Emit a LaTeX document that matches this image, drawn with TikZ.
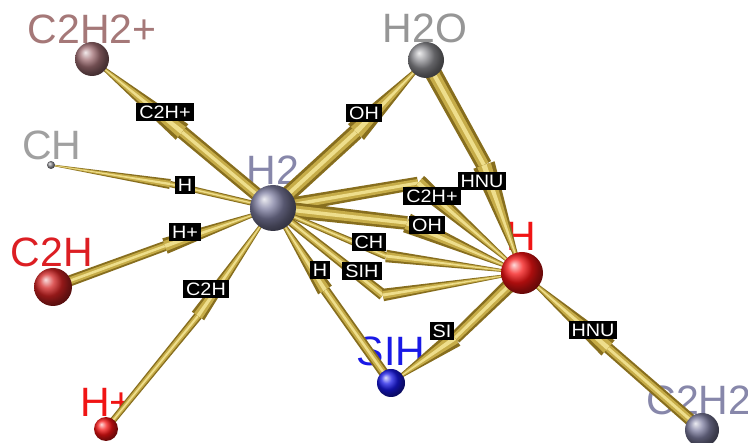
\documentclass[tikz,border=0pt]{standalone}
\usepackage{fontspec}
\setmainfont{Liberation Sans}
\newfontfamily\smf[FakeStretch=1.1]{Liberation Sans}
\usetikzlibrary{calc}
\pgfdeclarelayer{bg}
\pgfsetlayers{bg,main}
\definecolor{goldA}{RGB}{135,110,30}
\definecolor{goldB}{RGB}{198,172,72}
\definecolor{goldC}{RGB}{238,222,140}
\definecolor{tC2H2p}{RGB}{165,120,120}
\definecolor{tGray}{RGB}{150,150,150}
\definecolor{tCH}{RGB}{160,160,160}
\definecolor{tSlate}{RGB}{135,135,170}
\definecolor{tRedA}{RGB}{220,30,35}
\definecolor{tRed}{RGB}{240,20,20}
\definecolor{tBlue}{RGB}{25,25,230}
\definecolor{bC2H2p}{RGB}{160,110,115}
\definecolor{bGray}{RGB}{140,140,145}
\definecolor{bSlate}{RGB}{125,125,160}
\definecolor{bRedA}{RGB}{210,35,35}
\definecolor{bRed}{RGB}{245,20,20}
\definecolor{bBlue}{RGB}{25,25,230}
\newcommand{\tubeseg}[5]{%
  \fill[#5] ($(#1)!#3pt!90:(#2)$) -- ($(#2)!#4pt!-90:(#1)$) -- ($(#2)!#4pt!90:(#1)$) -- ($(#1)!#3pt!-90:(#2)$) -- cycle;}
\newcommand{\tube}[4]{%
  \pgfmathsetmacro\tubeaa{#3*1.25}\pgfmathsetmacro\tubebb{#4*1.25}%
  \tubeseg{#1}{#2}{\tubeaa}{\tubebb}{goldA}%
  \pgfmathsetmacro\tubeaa{#3*0.8}\pgfmathsetmacro\tubebb{#4*0.8}%
  \tubeseg{#1}{#2}{\tubeaa}{\tubebb}{goldB}%
  \pgfmathsetmacro\tubeaa{#3*0.3}\pgfmathsetmacro\tubebb{#4*0.3}%
  \tubeseg{#1}{#2}{\tubeaa}{\tubebb}{goldC}}
% source, flange, target, half width at source, half width at flange, cone base half width
\newcommand{\gedge}[6]{%
  \tube{#1}{#2}{#4}{#5}%
  \tube{#2}{#3}{#6}{0.5}}
\tikzset{
  ballnode/.style={circle, inner sep=0pt, draw=none},
  biglab/.style={font=\fontsize{41}{41}\selectfont, inner sep=0pt, text height=29.3pt, text depth=0pt},
  elab/.style={fill=black, text=white, font=\smf\fontsize{18}{18}\selectfont, inner ysep=2.5pt, inner xsep=3pt, text height=12.9pt, text depth=0pt}
}
\begin{document}
\begin{tikzpicture}[x=1pt,y=-1pt]
\useasboundingbox (0,0) rectangle (748,443);
\clip (0,0) rectangle (748,443);
% balls
\node[ballnode, ball color=bC2H2p, minimum size=34pt] (C2H2p) at (92,59) {};
\node[ballnode, ball color=bGray, minimum size=36pt] (H2O) at (426,60) {};
\node[ballnode, ball color=bGray, minimum size=8pt] (CH) at (51,165) {};
\node[ballnode, ball color=bSlate, minimum size=46pt] (H2) at (273,208) {};
\node[ballnode, ball color=bRedA, minimum size=38pt] (C2H) at (53,287) {};
\node[ballnode, ball color=bRed, minimum size=24pt] (Hp) at (106,429) {};
\node[ballnode, ball color=bRed, minimum size=42pt] (H) at (522,273) {};
\node[ballnode, ball color=bBlue, minimum size=28pt] (SIH) at (391,383) {};
\node[ballnode, ball color=bSlate, minimum size=34pt] (C2H2) at (702,430) {};
% flange points
\coordinate (f1) at (182,132);
\coordinate (f2) at (356,132);
\coordinate (f3) at (170,184);
\coordinate (f4) at (165,246);
\coordinate (f5) at (198,316);
\coordinate (f6) at (484,165);
\coordinate (f7) at (418,183);
\coordinate (f8) at (407,223);
\coordinate (f9) at (386,256);
\coordinate (f10) at (383,295);
\coordinate (f11) at (325,290);
\coordinate (f12) at (455,338);
\coordinate (f13) at (608,348);
\begin{pgfonlayer}{bg}
\fill[white] (0,0) rectangle (748,443);
% node labels (behind the edges)
\node[biglab, text=tC2H2p] (lC2H2p) at (92,29) {C2H2+};
\node[biglab, text=tGray] (lH2O) at (425,28) {H2O};
\node[biglab, text=tCH] (lCH) at (52,145) {CH};
\node[biglab, text=tSlate] (lH2) at (273,170) {H2};
\node[biglab, text=tRedA] (lC2H) at (52,252) {C2H};
\node[biglab, text=tRed] (lHp) at (107,402) {H+};
\node[biglab, text=tRed] (lH) at (521,236) {H};
\node[biglab, text=tBlue] (lSIH) at (391,351) {SIH};
\node[biglab, text=tSlate] (lC2H2) at (699,400) {C2H2};
% edges
\gedge{H2.center}{f1}{C2H2p.center}{5.5}{5.5}{8}
\gedge{H2.center}{f2}{H2O.center}{6.5}{6.5}{9}
\gedge{H2.center}{f3}{CH.center}{2}{2.5}{4}
\gedge{C2H.center}{f4}{H2.center}{4.5}{4}{6.5}
\gedge{Hp.center}{f5}{H2.center}{2.5}{3.5}{6}
\gedge{H2O.center}{f6}{H.center}{7}{6.5}{9}
\gedge{H2.center}{f7}{H.center}{6}{5}{7.5}
\gedge{H2.center}{f8}{H.center}{6.5}{5.5}{8}
\gedge{H2.center}{f9}{H.center}{2}{3}{5}
\gedge{H2.center}{f10}{H.center}{3}{4.5}{5}
\gedge{SIH.center}{f11}{H2.center}{4}{4}{6.5}
\gedge{H.center}{f12}{SIH.center}{6}{5}{7.5}
\gedge{C2H2.center}{f13}{H.center}{5}{4.5}{8}
\end{pgfonlayer}
% edge labels
\node[elab] (e1) at (165,112) {C2H+};
\node[elab] (e2) at (364,113) {OH};
\node[elab] (e3) at (185,185) {H};
\node[elab] (e4) at (185,232) {H+};
\node[elab] (e5) at (206,289) {C2H};
\node[elab] (e6) at (482,181) {HNU};
\node[elab] (e7) at (432,196) {C2H+};
\node[elab] (e8) at (427,225) {OH};
\node[elab] (e9) at (369,242) {CH};
\node[elab] (e10) at (320,270) {H};
\node[elab] (e11) at (362,271) {SIH};
\node[elab] (e12) at (442,331) {SI};
\node[elab] (e13) at (593,330) {HNU};
\end{tikzpicture}
\end{document}
